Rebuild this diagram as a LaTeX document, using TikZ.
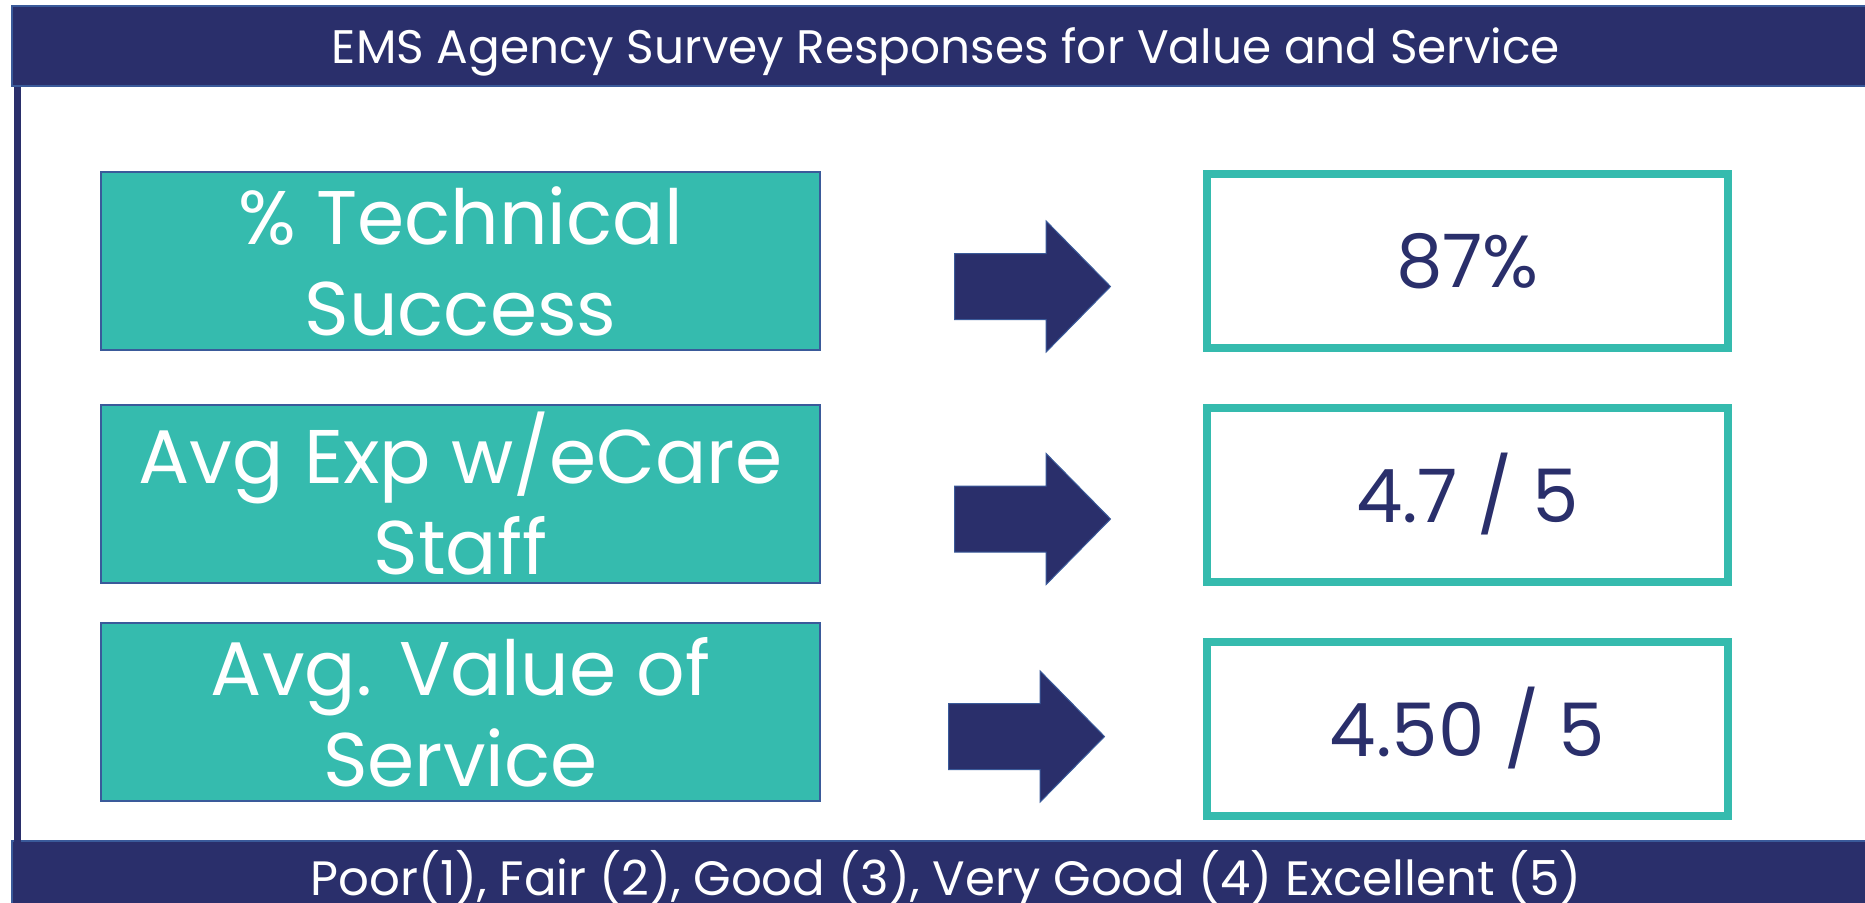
\documentclass[tikz,border=0pt]{standalone}
\usepackage{fontspec}
\setmainfont{Poppins}
\usetikzlibrary{shapes.arrows}
\definecolor{emsnavy}{HTML}{2A2F6B}
\definecolor{emsteal}{HTML}{35BBAE}
\definecolor{emsedge}{HTML}{3A5A9A}
\begin{document}
\begin{tikzpicture}[x=0.4pt,y=-0.4pt,
  bar/.style={fill=emsnavy,draw=emsedge,line width=0.8pt,text=white,minimum width=747pt,text depth=0pt,font=\fontsize{18.8}{22}\selectfont},
  metric/.style={fill=emsteal,draw=emsedge,line width=0.8pt,text=white,align=center,minimum width=287.6pt,minimum height=71.2pt,inner sep=0pt,font=\fontsize{30.4}{36.4}\selectfont},
  result/.style={fill=white,draw=emsteal,line width=3.2pt,text=emsnavy,minimum width=208.4pt,minimum height=69.6pt,font=\fontsize{29.5}{34}\selectfont},
  bigarrow/.style={single arrow,fill=emsnavy,draw=emsedge,line width=0.4pt,inner xsep=0pt,inner ysep=13pt,minimum height=62.4pt,minimum width=52pt,single arrow head extend=13pt,single arrow tip angle=91,anchor=tail}]
\useasboundingbox (0,0) rectangle (1865,902);
\fill[white] (0,0) rectangle (1865,902);
\node[bar,minimum height=32pt] (title) at (946,46) {EMS Agency Survey Responses for Value and Service};
\node[bar,minimum height=26pt,font=\fontsize{19.3}{22}\selectfont] (scale) at (946,873) {Poor(1), Fair (2), Good (3), Very Good (4) Excellent (5)};
\draw[emsnavy,line width=2.8pt] (title.south west) ++(6.5,0) -- ++(0,757);
\node[metric] (m1) at (460.5,261) {\% Technical\\Success};
\node[metric] (m2) at (460.5,494) {Avg Exp w/eCare\\Staff};
\node[metric] (m3) at (460.5,712) {Avg. Value of\\Service};
\node[result] (v1) at (1467.5,261) {87\%};
\node[result] (v2) at (1467.5,494.5) {4.7 / 5};
\node[result] (v3) at (1467.5,728.5) {4.50 / 5};
\node[bigarrow] (a1) at (954,286.5) {};
\node[bigarrow] (a2) at (954,519) {};
\node[bigarrow] (a3) at (948,736.5) {};
\end{tikzpicture}
\end{document}
